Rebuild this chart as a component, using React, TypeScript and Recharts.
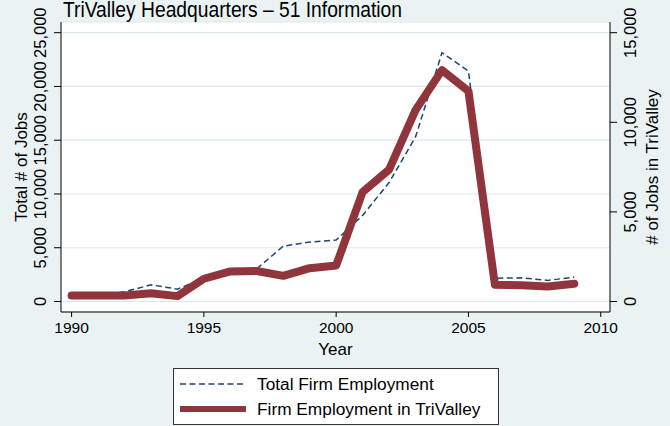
import React from 'react';
import { LineChart, Line, XAxis, YAxis, CartesianGrid } from 'recharts';

// values
const years = [1990, 1991, 1992, 1993, 1994, 1995, 1996, 1997, 1998, 1999, 2000, 2001, 2002, 2003, 2004, 2005, 2006, 2007, 2008, 2009];
const totalJobs = [560, 560, 900, 1550, 1150, 2170, 2890, 3040, 5150, 5530, 5710, 8010, 11060, 15310, 23140, 21430, 2170, 2200, 1960, 2270];
const trivalleyJobs = [335, 335, 340, 460, 300, 1270, 1680, 1700, 1430, 1860, 2010, 6110, 7360, 10680, 12910, 11740, 930, 910, 840, 990];

const yearTicks = [1990, 1995, 2000, 2005, 2010];
const leftTicks = [0, 5000, 10000, 15000, 20000, 25000];
const rightTicks = [0, 5000, 10000, 15000];

const data = years.map((year, i) => ({ year, total: totalJobs[i], trivalley: trivalleyJobs[i] }));

const FONT = '"Liberation Sans", Arial, Helvetica, sans-serif';
const BG = '#eaf2f3';
const NAVY = '#1a476f';
const MAROON = '#90353b';

const fmt = (v: number) => v.toLocaleString('en-US');

// Stata draws the y tick labels turned on their side
const makeRotTick = (cx: number) => (props: any) => {
  const { y, payload } = props;
  return (
    <text
      x={cx}
      y={y}
      transform={`rotate(-90, ${cx}, ${y})`}
      textAnchor="middle"
      dominantBaseline="central"
      fontSize={16.5}
      fontFamily={FONT}
      fill="#000"
    >
      {fmt(payload.value)}
    </text>
  );
};

const App = () => {
  return (
    <div style={{ position: 'fixed', left: 0, top: 0, width: 670, height: 426, background: BG, fontFamily: FONT }}>
      <LineChart width={670} height={426} data={data} margin={{ top: 22, right: 0, bottom: 68, left: 0 }}>
        <CartesianGrid yAxisId="left" vertical={false} horizontal stroke="#dde8ec" strokeWidth={1.2} fill="#ffffff" />
        <XAxis
          dataKey="year"
          type="number"
          domain={[1989.6, 2010.35]}
          ticks={yearTicks}
          allowDataOverflow
          height={46}
          tickSize={5}
          tickMargin={5}
          stroke="#000"
          tick={{ fontSize: 15.5, fill: '#000', fontFamily: FONT }}
          label={{ value: 'Year', position: 'insideBottom', offset: 3, fontSize: 17, fill: '#000', fontFamily: FONT }}
        />
        <YAxis
          yAxisId="left"
          type="number"
          domain={[-977, 25995]}
          ticks={leftTicks}
          allowDataOverflow
          width={61}
          tickSize={7}
          stroke="#000"
          tick={makeRotTick(40)}
        />
        <YAxis
          yAxisId="right"
          orientation="right"
          type="number"
          domain={[-586, 15597]}
          ticks={rightTicks}
          allowDataOverflow
          width={60}
          tickSize={7}
          stroke="#000"
          tick={makeRotTick(630)}
        />
        <Line
          yAxisId="left"
          type="linear"
          dataKey="total"
          stroke={NAVY}
          strokeWidth={1.5}
          strokeDasharray="6 3.5"
          dot={false}
          isAnimationActive={false}
        />
        <Line
          yAxisId="right"
          type="linear"
          dataKey="trivalley"
          stroke={MAROON}
          strokeWidth={8}
          strokeLinecap="round"
          strokeLinejoin="round"
          dot={false}
          isAnimationActive={false}
        />
      </LineChart>

      {/* title, axis titles and legend */}
      <svg width={670} height={426} style={{ position: 'absolute', left: 0, top: 0, pointerEvents: 'none' }}>
        <text x={63} y={17} fontSize={22} textLength={339} lengthAdjust="spacingAndGlyphs" fontFamily={FONT} fill="#000">
          TriValley Headquarters – 51 Information
        </text>
        <text x={21} y={167} transform="rotate(-90, 21, 167)" textAnchor="middle" dominantBaseline="central" fontSize={17} fontFamily={FONT}>
          Total # of Jobs
        </text>
        <text x={652} y={167} transform="rotate(-90, 652, 167)" textAnchor="middle" dominantBaseline="central" fontSize={17} fontFamily={FONT}>
          # of Jobs in TriValley
        </text>
        <rect x={173.5} y={368.5} width={325} height={56} fill="#fff" stroke="#333" strokeWidth={1} />
        <line x1={180} y1={384} x2={246} y2={384} stroke={NAVY} strokeWidth={1.5} strokeDasharray="6 3.5" />
        <text x={257} y={384} dominantBaseline="central" fontSize={17.3} fontFamily={FONT}>Total Firm Employment</text>
        <line x1={180} y1={409} x2={246} y2={409} stroke={MAROON} strokeWidth={6} />
        <text x={257} y={409} dominantBaseline="central" fontSize={17.3} fontFamily={FONT}>Firm Employment in TriValley</text>
      </svg>
    </div>
  );
};

export default App;
